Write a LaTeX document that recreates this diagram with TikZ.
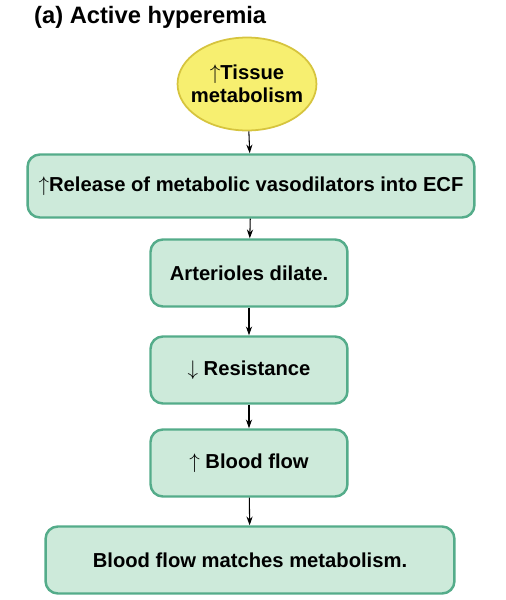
\documentclass[tikz,border=0pt]{standalone}
\usepackage{fontspec}
\setmainfont{Liberation Sans}
\usetikzlibrary{arrows.meta,shapes.geometric}
\definecolor{boxfill}{RGB}{205,234,218}
\definecolor{boxline}{RGB}{84,172,138}
\definecolor{ovalfill}{RGB}{247,239,112}
\definecolor{ovalline}{RGB}{214,196,62}
\begin{document}
\begin{tikzpicture}
			[x=0.02cm,y=-0.02cm,font=\bfseries\fontsize{11.5}{13}\selectfont,
			stepbox/.style={draw=boxline,fill=boxfill,line width=1.4pt,rounded corners=7pt,align=center,inner sep=0pt},
			flow/.style={-{Stealth[length=5pt,width=3.5pt]},semithick}]
			\useasboundingbox (0,0) rectangle (506,600);
			\node[anchor=west,font=\bfseries\fontsize{13.5}{15}\selectfont] (title) at (28,17) {(a) Active hyperemia};
			\node[ellipse,draw=ovalline,fill=ovalfill,line width=1pt,inner xsep=-4pt,inner ysep=0pt,align=center,
			minimum width=2.66cm,minimum height=1.86cm] (n1) at (247,84) {$\uparrow$Tissue\\metabolism};
			\node[stepbox,minimum width=8.94cm,minimum height=1.26cm] (n2) at (251,186) {$\uparrow$Release of metabolic vasodilators into ECF};
			\node[stepbox,minimum width=3.94cm,minimum height=1.34cm] (n3) at (249,273) {Arterioles dilate.};
			\node[stepbox,minimum width=3.94cm,minimum height=1.34cm] (n4) at (249,370) {$\downarrow$ Resistance};
			\node[stepbox,minimum width=3.94cm,minimum height=1.34cm] (n5) at (249,463) {$\uparrow$ Blood flow};
			\node[stepbox,minimum width=8.18cm,minimum height=1.34cm] (n6) at (250,560) {Blood flow matches metabolism.};
			
			\foreach \from/\to in {n1/n2,n2/n3,n3/n4,n4/n5,n5/n6}
			\draw[flow] (\from) -- (\to);
			\end{tikzpicture}
\end{document}
